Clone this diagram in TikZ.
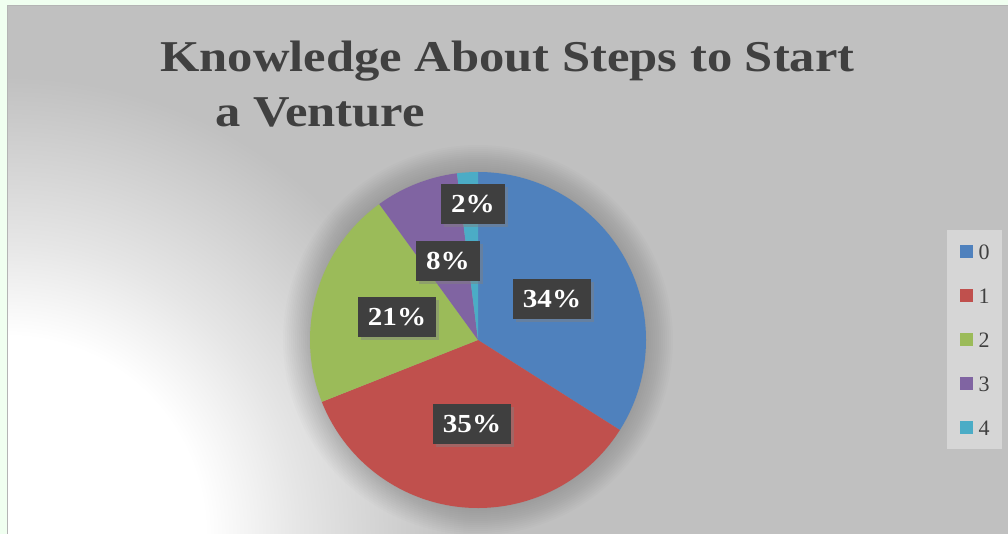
\documentclass[tikz,border=0pt]{standalone}
\usepackage{fontspec}
\setmainfont{Liberation Serif}
\usetikzlibrary{shadows}
\definecolor{pageback}{HTML}{F0FFF0}
\definecolor{chartgray}{HTML}{C0C0C0}
\definecolor{framegray}{HTML}{B4B4B4}
\definecolor{titlegray}{HTML}{404040}
\definecolor{boxgray}{HTML}{3F3F3F}
\definecolor{keyback}{HTML}{D6D6D6}
\definecolor{slicezero}{HTML}{4F81BD}
\definecolor{sliceone}{HTML}{C0504D}
\definecolor{slicetwo}{HTML}{9BBB59}
\definecolor{slicethree}{HTML}{8064A2}
\definecolor{slicefour}{HTML}{4BACC6}
\pgfdeclareradialshading{glowback}{\pgfpoint{0bp}{0bp}}{color(0bp)=(white); color(9.5bp)=(white); color(14bp)=(white!60!chartgray); color(22bp)=(chartgray); color(50bp)=(chartgray)}
\tikzset{
  pctbox/.style={fill=boxgray, text=white, font=\fontsize{26}{26}\selectfont\bfseries,
    inner xsep=10pt, inner ysep=0pt, minimum height=40pt,
    drop shadow={opacity=0.45, shadow xshift=3pt, shadow yshift=-3pt}},
  keytext/.style={text=titlegray, font=\fontsize{22}{22}\selectfont, anchor=west, inner sep=0pt},
  keysquare/.style={minimum size=13pt, inner sep=0pt},
}
\begin{document}
\begin{tikzpicture}[x=1pt, y=1pt]
                \useasboundingbox (0,0) rectangle (1008,534);
                \fill[pageback] (0,0) rectangle (1008,534);
                % chart area with the white glow at the lower left
                \begin{scope}
                \clip (7,0) rectangle (1008,529);
                \fill[chartgray] (7,0) rectangle (1008,529);
                \shade[shading=glowback] (7,0) circle[radius=520];
                \end{scope}
                \draw[framegray, line width=1.2pt] (7.5,0) -- (7.5,528.5) -- (1008,528.5);
                % title
                \node[anchor=base west, inner sep=0pt, text=titlegray, xscale=1.15, font=\fontsize{44}{44}\selectfont\bfseries] (title) at (160,462) {Knowledge About Steps to Start};
                \node[anchor=base west, inner sep=0pt, text=titlegray, xscale=1.15, font=\fontsize{44}{44}\selectfont\bfseries] (title2) at (215,407) {a Venture};
                % pie
                \coordinate (c) at (478,194);
                \foreach \i in {1,...,14}
                  \fill[black, opacity=0.012] (c) circle[radius=167+2*\i];
                \foreach \a/\b/\col in {90/-32.4/slicezero, -32.4/-158.4/sliceone, -158.4/-234/slicetwo, -234/-262.8/slicethree, -262.8/-270/slicefour}
                  \fill[\col] (c) -- ++(\a:168) arc[start angle=\a, end angle=\b, radius=168] -- cycle;
                % data labels
                \node[pctbox] (p0) at (552,235) {\scalebox{1.12}[1]{34\%}};
                \node[pctbox] (p1) at (472,110) {\scalebox{1.12}[1]{35\%}};
                \node[pctbox] (p2) at (397,217) {\scalebox{1.12}[1]{21\%}};
                \node[pctbox] (p3) at (448,273) {\scalebox{1.12}[1]{8\%}};
                \node[pctbox] (p4) at (473,330) {\scalebox{1.12}[1]{2\%}};
                % legend
                \node[fill=keyback, minimum width=55pt, minimum height=219pt, inner sep=0pt] (key) at (974.5,194.5) {};
                \foreach \n/\col [count=\k from 0] in {0/slicezero, 1/sliceone, 2/slicetwo, 3/slicethree, 4/slicefour} {
                  \node[keysquare, fill=\col] (sq\k) at (966.5,282-44*\k) {};
                  \node[keytext] (kt\k) at (978.5,282-44*\k) {\n};
                }
            \end{tikzpicture}
\end{document}
